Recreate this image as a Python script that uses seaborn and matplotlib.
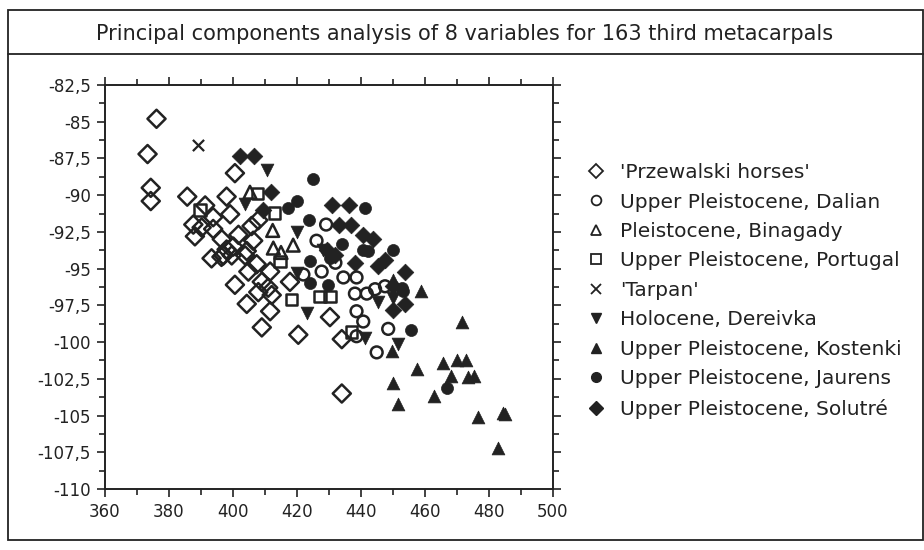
import matplotlib.pyplot as plt
import matplotlib.ticker as mticker
from matplotlib.lines import Line2D
from matplotlib.patches import Rectangle
import pandas as pd
import seaborn as sns

# PC scores, one list of (pc1, pc2) per group
przewalski = [
    (376.1, -84.8), (373.3, -87.2), (374.3, -89.5), (374.3, -90.4),
    (400.6, -88.5), (385.7, -90.1), (398.0, -90.1), (391.3, -90.7), (393.8, -91.5),
    (399.1, -91.3), (387.6, -92.0), (390.2, -92.2), (388.1, -92.8), (393.8, -92.3),
    (396.5, -93.0), (401.7, -92.7), (405.8, -92.1), (407.9, -91.7), (406.3, -93.1),
    (400.1, -93.5), (397.0, -94.1), (393.3, -94.3), (403.8, -94.1), (399.6, -94.1),
    (407.4, -94.7), (404.8, -95.2), (411.6, -95.2), (409.0, -95.9), (400.6, -96.1),
    (407.9, -96.6), (411.0, -96.3), (412.1, -96.8), (404.3, -97.4), (411.6, -97.9),
    (409.0, -99.0), (420.4, -99.5), (417.8, -95.9), (430.3, -98.3), (434.0, -99.8),
    (434.0, -103.5), (398.0, -93.7), (404.3, -93.8), (396.4, -94.2),
]
dalian = [
    (429.1, -92.0), (426.1, -93.1), (427.7, -95.2), (434.5, -95.6), (438.6, -95.6),
    (444.4, -96.4), (447.5, -96.2), (438.1, -96.7), (441.8, -96.7), (438.6, -97.9),
    (440.7, -98.6), (438.6, -99.6), (444.9, -100.7), (448.5, -99.1), (422.0, -95.4),
    (432.0, -94.6),
]
binagady = [
    (405.3, -89.8), (412.4, -92.4), (418.8, -93.4), (412.6, -93.6), (415.0, -93.9),
]
portugal = [
    (389.7, -91.0), (407.6, -89.9), (412.9, -91.2), (414.7, -94.5), (418.3, -97.1),
    (427.2, -96.9), (430.3, -96.9), (437.1, -99.3),
]
tarpan = [(389.2, -86.6)]
dereivka = [
    (410.7, -88.3), (403.8, -90.6), (420.1, -92.5), (419.9, -95.3), (423.0, -98.0),
    (445.4, -97.3), (441.3, -99.7), (451.7, -100.1), (450.1, -97.0), (428.0, -93.7),
]
kostenki = [
    (458.6, -96.5), (450.1, -95.8), (471.5, -98.6), (449.6, -100.6), (450.1, -102.8),
    (451.7, -104.2), (457.6, -101.8), (465.7, -101.4), (469.9, -101.2), (472.8, -101.2),
    (468.0, -102.3), (473.5, -102.4), (475.3, -102.3), (462.8, -103.7), (476.7, -105.1),
    (484.5, -104.8), (485.0, -104.9), (482.9, -107.2),
]
jaurens = [
    (425.1, -88.9), (417.3, -90.9), (419.9, -90.4), (441.3, -90.9), (423.8, -91.7),
    (434.0, -93.3), (440.7, -93.7), (442.3, -93.8), (450.1, -93.7), (424.1, -94.5),
    (424.1, -96.0), (429.8, -96.1), (453.2, -96.5), (455.5, -99.2), (466.8, -103.1),
    (430.3, -94.3), (452.7, -96.3),
]
solutre = [
    (402.2, -87.3), (406.6, -87.3), (411.8, -89.8), (409.5, -91.0), (430.8, -90.7),
    (436.3, -90.7), (433.2, -92.0), (436.9, -92.0), (440.7, -92.7), (443.8, -93.0),
    (429.3, -93.7), (431.9, -94.1), (438.2, -94.6), (445.4, -94.8), (447.5, -94.4),
    (453.8, -95.2), (453.8, -97.4), (450.1, -97.8), (450.1, -96.2),
]

labels = ["'Przewalski horses'", "Upper Pleistocene, Dalian", "Pleistocene, Binagady",
          "Upper Pleistocene, Portugal", "'Tarpan'", "Holocene, Dereivka",
          "Upper Pleistocene, Kostenki", "Upper Pleistocene, Jaurens",
          "Upper Pleistocene, Solutré"]
groups = [przewalski, dalian, binagady, portugal, tarpan, dereivka, kostenki, jaurens, solutre]

rows = []
for lab, pts in zip(labels, groups):
    for x, y in pts:
        rows.append({'group': lab, 'pc1': x, 'pc2': y})
df = pd.DataFrame(rows)

sns.set_style('ticks')
plt.rcParams['font.family'] = ['DejaVu Sans']
ink = '#222222'

# marker, filled?, size
styles = [('D', False, 85), ('o', False, 72), ('^', False, 85), ('s', False, 68),
          ('x', None, 65), ('v', True, 85), ('^', True, 85), ('o', True, 75), ('D', True, 72)]

fig = plt.figure(figsize=(9.24, 5.5), dpi=100)
ax = fig.add_axes([105 / 924, 1 - 489 / 550, 448 / 924, 404 / 550])

for lab, (m, filled, s) in zip(labels, styles):
    sub = df[df['group'] == lab]
    if filled is None:
        sns.scatterplot(data=sub, x='pc1', y='pc2', marker=m, color=ink, s=s,
                        linewidth=1.6, ax=ax, legend=False)
    elif filled:
        sns.scatterplot(data=sub, x='pc1', y='pc2', marker=m, color=ink, s=s,
                        edgecolor=ink, linewidth=0.5, ax=ax, legend=False)
    else:
        sns.scatterplot(data=sub, x='pc1', y='pc2', marker=m, facecolor='none', s=s,
                        edgecolor=ink, linewidth=1.8, ax=ax, legend=False)

ax.set_xlim(360, 500)
ax.set_ylim(-110, -82.5)
ax.set_xlabel('')
ax.set_ylabel('')
ax.xaxis.set_major_locator(mticker.MultipleLocator(20))
ax.xaxis.set_minor_locator(mticker.MultipleLocator(10))
ax.yaxis.set_major_locator(mticker.MultipleLocator(2.5))
ax.yaxis.set_minor_locator(mticker.MultipleLocator(1.25))
ax.yaxis.set_major_formatter(mticker.FuncFormatter(lambda v, p: f'{v:g}'.replace('.', ',')))
ax.tick_params(which='both', top=True, right=True, direction='out', color=ink,
               labelsize=12, labelcolor=ink, width=1.2)
ax.tick_params(which='major', length=6, pad=4)
ax.tick_params(which='minor', length=4)
for sp in ax.spines.values():
    sp.set_visible(True)
    sp.set_linewidth(1.4)
    sp.set_color(ink)

# legend
handles = []
for m, filled, s in styles:
    if filled is None:
        h = Line2D([], [], ls='', marker=m, color=ink, ms=6.5, mew=1.3)
    elif filled:
        h = Line2D([], [], ls='', marker=m, color=ink, mfc=ink, ms=7)
    else:
        h = Line2D([], [], ls='', marker=m, color=ink, mfc='none', ms=7, mew=1.3)
    handles.append(h)
fig.legend(handles, labels, loc='upper left', bbox_to_anchor=(576 / 924, 1 - 153 / 550),
           frameon=False, fontsize=14.5, labelspacing=0.52, handlelength=1.0,
           handletextpad=0.7, borderpad=0, labelcolor=ink)

# outer frame and title box
fig.add_artist(Rectangle((8 / 924, 10 / 550), 915 / 924, 530 / 550, transform=fig.transFigure,
                         fill=False, lw=1.3, ec=ink))
fig.add_artist(Line2D([8 / 924, 1], [1 - 54 / 550] * 2, transform=fig.transFigure, lw=1.3, color=ink))
fig.text(465 / 924, 1 - 34 / 550, 'Principal components analysis of 8 variables for 163 third metacarpals',
         ha='center', va='center', fontsize=15, color=ink)

fig.savefig('out.png', dpi=100)
